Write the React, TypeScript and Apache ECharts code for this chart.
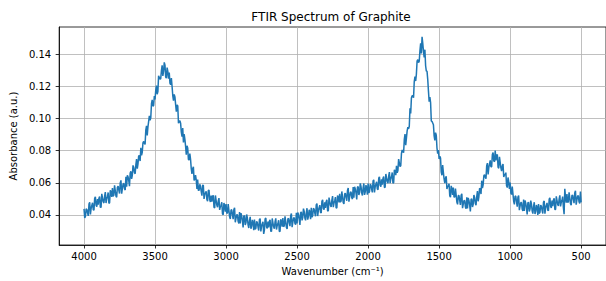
import React, { useEffect, useRef } from "react";
import * as echarts from "echarts";

// Wavenumber grid (cm^-1): 4000 down to 500 in steps of 5
const WAVENUMBER_START = 4000;
const WAVENUMBER_STEP = 5;

// Absorbance readings (a.u.), from 4000 cm^-1 to 500 cm^-1
const absorbance = [
  // 4000 - 3905
  0.0438, 0.0381, 0.0391, 0.0438, 0.0434, 0.0411, 0.0394, 0.0468, 0.0479, 0.0403,
  0.0440, 0.0459, 0.0476, 0.0432, 0.0430, 0.0503, 0.0512, 0.0460, 0.0452, 0.0498,
  // 3900 - 3805
  0.0464, 0.0504, 0.0515, 0.0447, 0.0448, 0.0531, 0.0506, 0.0482, 0.0474, 0.0517,
  0.0542, 0.0474, 0.0501, 0.0515, 0.0540, 0.0473, 0.0475, 0.0553, 0.0543, 0.0512,
  // 3800 - 3705
  0.0567, 0.0516, 0.0523, 0.0584, 0.0552, 0.0517, 0.0510, 0.0572, 0.0579, 0.0554,
  0.0533, 0.0599, 0.0615, 0.0532, 0.0563, 0.0591, 0.0597, 0.0562, 0.0555, 0.0637,
  // 3700 - 3605
  0.0576, 0.0647, 0.0637, 0.0614, 0.0579, 0.0661, 0.0671, 0.0624, 0.0646, 0.0708,
  0.0696, 0.0663, 0.0656, 0.0711, 0.0748, 0.0688, 0.0718, 0.0770, 0.0766, 0.0735,
  // 3600 - 3505
  0.0818, 0.0771, 0.0790, 0.0849, 0.0857, 0.0845, 0.0839, 0.0928, 0.0954, 0.0894,
  0.0947, 0.0982, 0.1016, 0.0989, 0.1004, 0.1092, 0.1116, 0.1076, 0.1081, 0.1139,
  // 3500 - 3405
  0.1118, 0.1175, 0.1204, 0.1151, 0.1167, 0.1265, 0.1255, 0.1244, 0.1248, 0.1298,
  0.1331, 0.1265, 0.1294, 0.1349, 0.1332, 0.1257, 0.1251, 0.1316, 0.1293, 0.1247,
  // 3400 - 3305
  0.1286, 0.1220, 0.1211, 0.1252, 0.1199, 0.1141, 0.1111, 0.1150, 0.1134, 0.1086,
  0.1042, 0.1085, 0.1078, 0.0971, 0.0979, 0.0986, 0.0971, 0.0915, 0.0887, 0.0940,
  // 3300 - 3205
  0.0851, 0.0902, 0.0872, 0.0829, 0.0774, 0.0830, 0.0816, 0.0745, 0.0743, 0.0781,
  0.0746, 0.0688, 0.0656, 0.0687, 0.0700, 0.0615, 0.0621, 0.0647, 0.0618, 0.0562,
  // 3200 - 3105
  0.0620, 0.0553, 0.0553, 0.0591, 0.0578, 0.0546, 0.0520, 0.0584, 0.0585, 0.0500,
  0.0528, 0.0538, 0.0547, 0.0496, 0.0486, 0.0552, 0.0554, 0.0495, 0.0481, 0.0521,
  // 3100 - 3005
  0.0482, 0.0516, 0.0522, 0.0448, 0.0444, 0.0521, 0.0491, 0.0462, 0.0448, 0.0485,
  0.0505, 0.0431, 0.0452, 0.0460, 0.0479, 0.0406, 0.0402, 0.0474, 0.0458, 0.0420,
  // 3000 - 2905
  0.0468, 0.0411, 0.0412, 0.0467, 0.0429, 0.0388, 0.0375, 0.0431, 0.0432, 0.0401,
  0.0374, 0.0434, 0.0444, 0.0354, 0.0379, 0.0401, 0.0401, 0.0360, 0.0347, 0.0418,
  // 2900 - 2805
  0.0347, 0.0411, 0.0394, 0.0364, 0.0322, 0.0394, 0.0395, 0.0338, 0.0351, 0.0403,
  0.0382, 0.0338, 0.0319, 0.0363, 0.0388, 0.0314, 0.0331, 0.0369, 0.0352, 0.0305,
  // 2800 - 2705
  0.0372, 0.0311, 0.0317, 0.0360, 0.0352, 0.0325, 0.0303, 0.0372, 0.0377, 0.0297,
  0.0329, 0.0344, 0.0357, 0.0282, 0.0305, 0.0375, 0.0381, 0.0326, 0.0316, 0.0359,
  // 2700 - 2605
  0.0323, 0.0360, 0.0369, 0.0299, 0.0298, 0.0378, 0.0351, 0.0326, 0.0315, 0.0356,
  0.0379, 0.0309, 0.0333, 0.0345, 0.0367, 0.0298, 0.0297, 0.0373, 0.0360, 0.0327,
  // 2600 - 2505
  0.0380, 0.0327, 0.0332, 0.0392, 0.0358, 0.0322, 0.0313, 0.0374, 0.0379, 0.0353,
  0.0330, 0.0395, 0.0409, 0.0324, 0.0353, 0.0379, 0.0384, 0.0347, 0.0339, 0.0414,
  // 2500 - 2405
  0.0347, 0.0415, 0.0402, 0.0376, 0.0338, 0.0414, 0.0419, 0.0366, 0.0383, 0.0439,
  0.0422, 0.0381, 0.0366, 0.0413, 0.0442, 0.0371, 0.0391, 0.0432, 0.0418, 0.0374,
  // 2400 - 2305
  0.0444, 0.0386, 0.0395, 0.0441, 0.0436, 0.0411, 0.0392, 0.0463, 0.0471, 0.0393,
  0.0428, 0.0445, 0.0461, 0.0416, 0.0413, 0.0485, 0.0494, 0.0441, 0.0433, 0.0478,
  // 2300 - 2205
  0.0444, 0.0483, 0.0494, 0.0425, 0.0426, 0.0508, 0.0483, 0.0459, 0.0450, 0.0492,
  0.0517, 0.0448, 0.0474, 0.0487, 0.0511, 0.0443, 0.0444, 0.0521, 0.0510, 0.0478,
  // 2200 - 2105
  0.0532, 0.0480, 0.0486, 0.0546, 0.0513, 0.0477, 0.0469, 0.0530, 0.0536, 0.0510,
  0.0488, 0.0553, 0.0568, 0.0483, 0.0513, 0.0539, 0.0544, 0.0507, 0.0499, 0.0574,
  // 2100 - 2005
  0.0507, 0.0575, 0.0562, 0.0536, 0.0497, 0.0572, 0.0577, 0.0524, 0.0540, 0.0596,
  0.0578, 0.0537, 0.0521, 0.0568, 0.0596, 0.0525, 0.0544, 0.0585, 0.0570, 0.0526,
  // 2000 - 1905
  0.0595, 0.0537, 0.0545, 0.0591, 0.0585, 0.0560, 0.0540, 0.0611, 0.0618, 0.0540,
  0.0574, 0.0591, 0.0606, 0.0561, 0.0557, 0.0629, 0.0637, 0.0584, 0.0576, 0.0622,
  // 1900 - 1805
  0.0588, 0.0628, 0.0639, 0.0571, 0.0572, 0.0655, 0.0630, 0.0607, 0.0598, 0.0641,
  0.0666, 0.0598, 0.0624, 0.0639, 0.0664, 0.0598, 0.0601, 0.0681, 0.0673, 0.0647,
  // 1800 - 1705
  0.0706, 0.0662, 0.0676, 0.0747, 0.0724, 0.0701, 0.0706, 0.0783, 0.0804, 0.0794,
  0.0787, 0.0870, 0.0903, 0.0834, 0.0879, 0.0923, 0.0946, 0.0935, 0.0952, 0.1063,
  // 1700 - 1605
  0.1031, 0.1127, 0.1142, 0.1141, 0.1129, 0.1230, 0.1261, 0.1233, 0.1276, 0.1357,
  0.1366, 0.1348, 0.1356, 0.1421, 0.1468, 0.1405, 0.1508, 0.1467, 0.1416, 0.1380,
  // 1600 - 1505
  0.1428, 0.1328, 0.1295, 0.1294, 0.1242, 0.1170, 0.1104, 0.1133, 0.1099, 0.0984,
  0.0982, 0.0972, 0.0961, 0.0892, 0.0864, 0.0912, 0.0896, 0.0816, 0.0781, 0.0804,
  // 1500 - 1405
  0.0748, 0.0765, 0.0754, 0.0666, 0.0647, 0.0710, 0.0665, 0.0624, 0.0598, 0.0628,
  0.0641, 0.0561, 0.0576, 0.0580, 0.0594, 0.0518, 0.0511, 0.0581, 0.0563, 0.0524,
  // 1400 - 1305
  0.0571, 0.0512, 0.0511, 0.0564, 0.0524, 0.0481, 0.0466, 0.0521, 0.0521, 0.0490,
  0.0462, 0.0522, 0.0532, 0.0442, 0.0467, 0.0489, 0.0490, 0.0450, 0.0438, 0.0510,
  // 1300 - 1205
  0.0440, 0.0506, 0.0490, 0.0462, 0.0422, 0.0497, 0.0501, 0.0449, 0.0466, 0.0524,
  0.0509, 0.0472, 0.0461, 0.0514, 0.0548, 0.0485, 0.0513, 0.0565, 0.0561, 0.0530,
  // 1200 - 1105
  0.0613, 0.0567, 0.0587, 0.0644, 0.0650, 0.0635, 0.0626, 0.0706, 0.0722, 0.0652,
  0.0694, 0.0717, 0.0739, 0.0699, 0.0700, 0.0776, 0.0788, 0.0737, 0.0731, 0.0801,
  // 1100 - 1005
  0.0740, 0.0772, 0.0776, 0.0698, 0.0690, 0.0762, 0.0727, 0.0693, 0.0673, 0.0704,
  0.0717, 0.0636, 0.0650, 0.0651, 0.0663, 0.0582, 0.0570, 0.0633, 0.0608, 0.0562,
  // 1000 - 905
  0.0601, 0.0536, 0.0528, 0.0576, 0.0531, 0.0485, 0.0466, 0.0518, 0.0515, 0.0482,
  0.0452, 0.0511, 0.0520, 0.0430, 0.0455, 0.0477, 0.0477, 0.0436, 0.0424, 0.0496,
  // 900 - 805
  0.0425, 0.0490, 0.0473, 0.0444, 0.0403, 0.0476, 0.0478, 0.0422, 0.0436, 0.0489,
  0.0469, 0.0426, 0.0408, 0.0453, 0.0479, 0.0406, 0.0423, 0.0462, 0.0446, 0.0400,
  // 800 - 705
  0.0468, 0.0409, 0.0416, 0.0461, 0.0455, 0.0429, 0.0409, 0.0480, 0.0487, 0.0408,
  0.0443, 0.0460, 0.0475, 0.0430, 0.0426, 0.0498, 0.0506, 0.0453, 0.0444, 0.0489,
  // 700 - 605
  0.0454, 0.0493, 0.0503, 0.0434, 0.0434, 0.0516, 0.0490, 0.0466, 0.0456, 0.0498,
  0.0522, 0.0453, 0.0478, 0.0491, 0.0514, 0.0446, 0.0405, 0.0562, 0.0510, 0.0477,
  // 600 - 505
  0.0530, 0.0477, 0.0482, 0.0541, 0.0507, 0.0470, 0.0460, 0.0520, 0.0524, 0.0497,
  0.0473, 0.0537, 0.0550, 0.0464, 0.0492, 0.0517, 0.0520, 0.0482, 0.0472, 0.0546,
  // 500
  0.0478,
];

const xTicks = [4000, 3500, 3000, 2500, 2000, 1500, 1000, 500];
const yTicks = [0.04, 0.06, 0.08, 0.1, 0.12, 0.14];

const TITLE = "FTIR Spectrum of Graphite";
const X_NAME = "Wavenumber (cm\u207B\u00B9)";
const Y_NAME = "Absorbance (a.u.)";

const FONT = "DejaVu Sans";

export default function App() {
  const ref = useRef<HTMLDivElement>(null);

  useEffect(() => {
    if (!ref.current) return;
    const chart = echarts.init(ref.current, null, { renderer: "svg" });
    const data = absorbance.map((a, i) => [WAVENUMBER_START - i * WAVENUMBER_STEP, a]);

    chart.setOption({
      animation: false,
      backgroundColor: "#ffffff",
      graphic: [
        {
          type: "text",
          x: 331,
          y: 16.5,
          style: {
            text: TITLE,
            align: "center",
            verticalAlign: "middle",
            fontFamily: FONT,
            fontSize: 12,
            fill: "#000",
          },
        },
      ],
      grid: {
        left: 56,
        top: 27,
        width: 550.3,
        height: 222.3,
        show: true,
        borderColor: "#000",
        borderWidth: 0.8,
        backgroundColor: "transparent",
      },
      xAxis: {
        type: "value",
        inverse: true,
        min: 325,
        max: 4175,
        name: X_NAME,
        nameLocation: "middle",
        nameGap: 21,
        nameTextStyle: { fontFamily: FONT, fontSize: 10, color: "#000" },
        axisLine: { show: true, lineStyle: { color: "#000", width: 0.8 } },
        axisTick: {
          show: true,
          length: 3.5,
          customValues: xTicks,
          lineStyle: { color: "#000", width: 0.8 },
        },
        axisLabel: {
          customValues: xTicks,
          margin: 6,
          fontFamily: FONT,
          fontSize: 10,
          color: "#000",
          formatter: (v: number) => String(v),
        },
        splitLine: { show: true, lineStyle: { color: "#b0b0b0", width: 0.8 } },
      },
      yAxis: {
        type: "value",
        min: 0.0213,
        max: 0.1569,
        name: Y_NAME,
        nameLocation: "middle",
        nameGap: 36,
        nameRotate: 90,
        nameTextStyle: { fontFamily: FONT, fontSize: 10, color: "#000" },
        axisLine: { show: true, lineStyle: { color: "#000", width: 0.8 } },
        axisTick: {
          show: true,
          length: 3.5,
          customValues: yTicks,
          lineStyle: { color: "#000", width: 0.8 },
        },
        axisLabel: {
          customValues: yTicks,
          margin: 8,
          fontFamily: FONT,
          fontSize: 10,
          color: "#000",
          formatter: (v: number) => v.toFixed(2),
        },
        splitLine: { show: true, lineStyle: { color: "#b0b0b0", width: 0.8 } },
      },
      series: [
        {
          type: "line",
          data,
          showSymbol: false,
          symbol: "none",
          lineStyle: { color: "#1f77b4", width: 1.5 },
          z: 5,
        },
      ],
    });

    return () => chart.dispose();
  }, []);

  return (
    <div
      ref={ref}
      style={{ position: "fixed", left: 0, top: 0, width: 606, height: 281 }}
    />
  );
}
